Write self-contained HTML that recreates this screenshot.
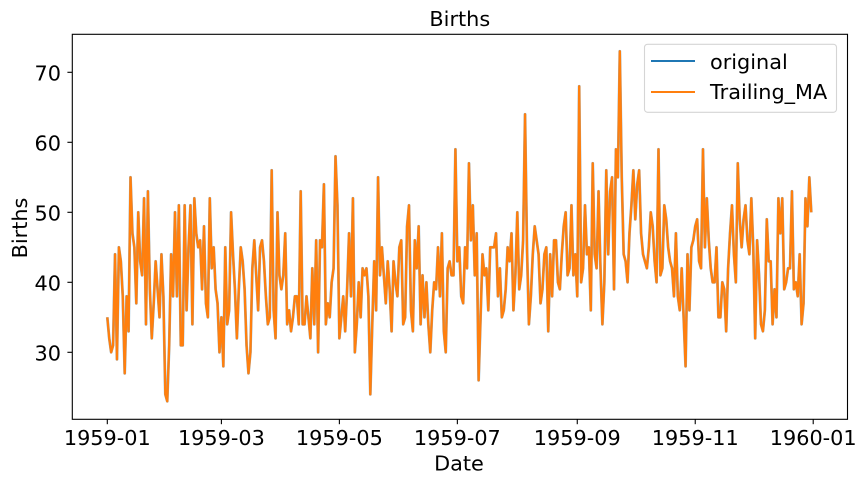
<!DOCTYPE html>
<html>
<head>
<meta charset="utf-8">
<title>Births</title>
<style>
html,body{margin:0;padding:0;background:#fff;}
svg{display:block;}
text{font-family:"DejaVu Sans",sans-serif;fill:#000;}
</style>
</head>
<body>
<svg id="chart" width="866" height="484" viewBox="0 0 866 484" xmlns="http://www.w3.org/2000/svg">
<rect x="0" y="0" width="866" height="484" fill="#fff"/>
<g id="series-layer"></g>
<rect x="72.3" y="34.3" width="775.2" height="385" fill="none" stroke="#000" stroke-width="1.1"/>
<g id="x-ticks"></g>
<g id="y-ticks"></g>
<text x="459.8" y="26" font-size="20.8" text-anchor="middle">Births</text>
<text x="459" y="470.5" font-size="20.8" text-anchor="middle">Date</text>
<text x="0" y="0" font-size="20.8" text-anchor="middle" transform="translate(27,228) rotate(-90)">Births</text>
<g>
<rect x="644.5" y="44.3" width="192" height="68" rx="3" ry="3" fill="#fff" fill-opacity="0.8" stroke="#d5d5d5" stroke-width="1.1"/>
<line x1="651" y1="61" x2="695" y2="61" stroke="#1f77b4" stroke-width="2"/>
<text x="710" y="69" font-size="20.8">original</text>
<line x1="651" y1="92" x2="695" y2="92" stroke="#ff7f0e" stroke-width="2"/>
<text x="710" y="99" font-size="20.8">Trailing_MA</text>
</g>
</svg>
<script>
const original = [35,32,30,31,44,29,45,43,38,27,38,33,55,47,45,37,50,43,41,52,34,53,39,32,37,43,39,35,44,38,24,23,31,44,38,50,38,51,31,31,51,36,45,51,34,52,47,45,46,39,48,37,35,52,42,45,39,37,30,35,28,45,34,36,50,44,39,32,39,45,43,39,31,27,30,42,46,41,36,45,46,43,38,34,35,56,36,32,50,41,39,41,47,34,36,33,35,38,38,34,53,34,34,38,35,32,42,34,46,30,46,45,54,34,37,35,40,42,58,51,32,35,38,33,39,47,38,52,30,34,40,35,42,41,42,38,24,34,43,36,55,41,45,41,37,43,39,33,43,40,38,45,46,34,35,48,51,36,33,46,42,48,34,41,35,40,34,30,36,40,39,45,38,47,33,30,42,43,41,41,59,43,45,38,37,45,42,57,46,51,41,47,26,35,44,41,42,36,45,45,45,47,38,42,35,36,39,45,43,47,36,41,50,39,41,46,64,45,34,38,44,48,46,44,37,39,44,45,33,44,38,46,46,40,39,44,48,50,41,42,51,41,44,38,68,40,42,51,44,45,36,57,44,42,53,42,34,40,56,44,53,55,39,59,55,73,55,44,43,40,47,51,56,49,54,56,47,44,43,42,45,50,48,43,40,59,41,42,51,49,45,43,42,38,47,38,36,42,35,28,44,36,45,46,48,49,43,42,59,45,52,46,42,40,40,45,35,35,40,39,33,42,47,51,44,40,57,49,45,49,51,46,44,52,45,32,46,41,34,33,36,49,43,43,34,39,35,52,47,52,39,40,42,42,53,39,40,38,44,34,37,52,48,55,50];
const trailingMA = original.slice();
const xTickLabels = ["1959-01","1959-03","1959-05","1959-07","1959-09","1959-11","1960-01"];
const xTickDates = ["1959-01-01","1959-03-01","1959-05-01","1959-07-01","1959-09-01","1959-11-01","1960-01-01"];
const yTickValues = [30,40,50,60,70];

const NS = "http://www.w3.org/2000/svg";
const DAY = 86400000;
const startDate = Date.UTC(1959,0,1);
function xDay(d){ return 107.3 + d * 1.934; }
function xDate(s){ return xDay((Date.parse(s + "T00:00:00Z") - startDate) / DAY); }
function yVal(v){ return 352.3 - (v - 30) * 7; }
function linePath(vals){
  return vals.map(function(v,i){ return (i ? "L" : "M") + xDay(i).toFixed(2) + " " + yVal(v).toFixed(2); }).join("");
}
const seriesLayer = document.getElementById("series-layer");
function addSeries(vals, color, name, width, opacity){
  const p = document.createElementNS(NS,"path");
  
  
  p.setAttribute("d", linePath(vals));
  p.setAttribute("fill","none");
  p.setAttribute("stroke",color);
  p.setAttribute("stroke-width",width);
  p.setAttribute("stroke-opacity",opacity);
  p.setAttribute("stroke-linejoin","round");
  seriesLayer.appendChild(p);
}
addSeries(original,"#1f77b4","series-original","2.8","0.55");
addSeries(trailingMA,"#ff7f0e","series-trailing-ma","2.35","1");

const xg = document.getElementById("x-ticks");
xTickLabels.forEach(function(label,i){
  const x = xDate(xTickDates[i]);
  const l = document.createElementNS(NS,"line");
  
  
  l.setAttribute("x1",x); l.setAttribute("x2",x);
  l.setAttribute("y1",419.3); l.setAttribute("y2",424.2);
  l.setAttribute("stroke","#000"); l.setAttribute("stroke-width","1.1");
  xg.appendChild(l);
  const t = document.createElementNS(NS,"text");
  
  
  t.setAttribute("x",x); t.setAttribute("y",445);
  t.setAttribute("font-size","20.8"); t.setAttribute("text-anchor","middle");
  t.textContent = label;
  xg.appendChild(t);
});
const yg = document.getElementById("y-ticks");
yTickValues.forEach(function(v){
  const y = yVal(v);
  const l = document.createElementNS(NS,"line");
  
  
  l.setAttribute("x1",67.4); l.setAttribute("x2",72.3);
  l.setAttribute("y1",y); l.setAttribute("y2",y);
  l.setAttribute("stroke","#000"); l.setAttribute("stroke-width","1.1");
  yg.appendChild(l);
  const t = document.createElementNS(NS,"text");
  
  
  t.setAttribute("x",61); t.setAttribute("y",y + 8);
  t.setAttribute("font-size","20.8"); t.setAttribute("text-anchor","end");
  t.textContent = String(v);
  yg.appendChild(t);
});
</script>
</body>
</html>
